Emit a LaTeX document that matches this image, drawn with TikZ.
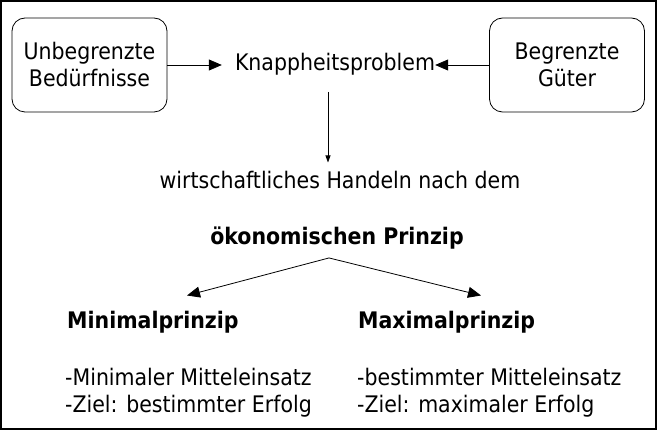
\documentclass[tikz,border=0pt]{standalone}
\usepackage{fontspec}
\setmainfont{DejaVu Sans Condensed}
\usetikzlibrary{positioning,arrows.meta}

\begin{document}
\begin{tikzpicture}[
    x=1pt, y=-1pt,
    every node/.style={font=\fontsize{22.8}{27}\selectfont, inner sep=0pt},
    box/.style={draw, rounded corners=13pt, align=center, minimum width=155pt, minimum height=94pt, line width=0.8pt},
    txt/.style={anchor=base},
    head/.style={anchor=base west, font=\fontsize{22.8}{27}\selectfont\bfseries},
    list/.style={anchor=north west, align=left},
    arrow/.style={-{Triangle[length=13pt,width=11pt]}, line width=0.8pt},
    smallarrow/.style={-{Triangle[length=7pt,width=5pt]}, line width=0.8pt}
  ]
  \useasboundingbox (0,0) rectangle (657,430);
  \draw[line width=1.2pt] (1,1) rectangle (656,429);

  % top row
  \node[box] (need) at (89.5,65) {Unbegrenzte\\Bedürfnisse};
  \node[box] (goods) at (567,65) {Begrenzte\\Güter};
  \node[txt] (scarce) at (335,71) {Knappheitsproblem};

  % middle
  \node[txt] (act) at (340,189) {wirtschaftliches Handeln nach dem};
  \node[txt, font=\fontsize{22.8}{27}\selectfont\bfseries] (econ) at (337,245) {ökonomischen Prinzip};
  \coordinate (fork) at ([xshift=-8pt,yshift=-8pt]econ.south);

  % two principles
  \node[head] (minp) at (67,329) {Minimalprinzip};
  \node[head] (maxp) at (358,329) {Maximalprinzip};
  \node[list] (minlist) at (65,368) {-Minimaler Mitteleinsatz\\-Ziel: bestimmter Erfolg};
  \node[list] (maxlist) at (357,368) {-bestimmter Mitteleinsatz\\-Ziel: maximaler Erfolg};

  % --- arrows ---
  \draw[arrow] (need.east) -- ([xshift=-13pt]need.east -| scarce.west);
  \draw[arrow] (goods.west) -- (goods.west -| scarce.east);
  \draw[smallarrow, shorten <=16pt, shorten >=9pt] ([xshift=-7pt]scarce.south) -- ([xshift=-7pt]scarce.south |- act.north);

  \draw[arrow] (fork) -- ([xshift=120pt,yshift=16pt]minp.north west);
  \draw[arrow] (fork) -- ([xshift=123pt,yshift=16pt]maxp.north west);

\end{tikzpicture}
\end{document}
